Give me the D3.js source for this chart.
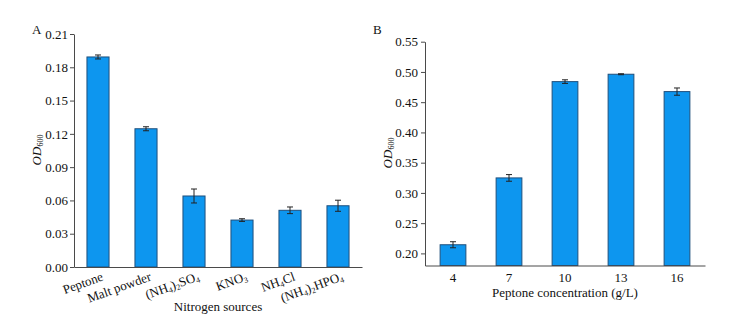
<!DOCTYPE html>
<html>
<head>
<meta charset="utf-8">
<script src="https://cdn.jsdelivr.net/npm/d3@7"></script>
<style>
  body { margin: 0; background: #fff; }
  svg { display: block; font-family: "Liberation Serif", "Times New Roman", serif; }
  .axis path, .axis line { stroke: #4a4a4a; }
  .axis text { font-size: 13px; fill: #111; font-family: "Liberation Serif", serif; }
</style>
</head>
<body>
<svg id="chart" width="732" height="327"></svg>
<script>
// Panel A: nitrogen sources
const sourceCategories = ["Peptone", "Malt powder", "(NH4)2SO4", "KNO3", "NH4Cl", "(NH4)2HPO4"];
const sourceValues = [0.1893, 0.1246, 0.0640, 0.0423, 0.0511, 0.0552];
const sourceErrors = [0.0018, 0.0018, 0.0063, 0.0012, 0.0030, 0.0050];
const sourceTicks = [0, 0.03, 0.06, 0.09, 0.12, 0.15, 0.18, 0.21];

// Panel B: peptone concentration (g/L)
const concCategories = ["4", "7", "10", "13", "16"];
const concValues = [0.2143, 0.3248, 0.4840, 0.4962, 0.4675];
const concErrors = [0.0050, 0.0055, 0.0030, 0.0008, 0.0060];
const concTicks = [0.20, 0.25, 0.30, 0.35, 0.40, 0.45, 0.50, 0.55];

// Chemical formula labels: [text, isSubscript] segments
const formulaParts = {
  "Peptone": [["Peptone", false]],
  "Malt powder": [["Malt powder", false]],
  "(NH4)2SO4": [["(NH", false], ["4", true], [")", false], ["2", true], ["SO", false], ["4", true]],
  "KNO3": [["KNO", false], ["3", true]],
  "NH4Cl": [["NH", false], ["4", true], ["Cl", false]],
  "(NH4)2HPO4": [["(NH", false], ["4", true], [")", false], ["2", true], ["HPO", false], ["4", true]]
};

const FILL = "#0d96ef";
const STROKE = "#1f4f7c";
const svg = d3.select("#chart");

function writeParts(textSel, parts, subSize) {
  parts.forEach(([t, sub]) => {
    const ts = textSel.append("tspan").text(t);
    if (sub) ts.attr("font-size", subSize).attr("baseline-shift", "-25%");
  });
}

function yLabel(x, y) {
  const t = svg.append("text")
    .attr("transform", `translate(${x},${y}) rotate(-90)`)
    .attr("text-anchor", "middle")
    .attr("font-size", 13)
    .attr("font-style", "italic")
    .attr("fill", "#111");
  t.append("tspan").text("OD");
  t.append("tspan").text("600").attr("font-size", 8).attr("font-style", "normal").attr("baseline-shift", "-30%");
}

function drawBars(g, x, y, cats, vals, errs, base) {
  g.selectAll("rect.bar").data(cats).join("rect")
    .attr("class", "bar")
    .attr("x", d => x(d))
    .attr("width", x.bandwidth())
    .attr("y", (d, i) => y(vals[i]))
    .attr("height", (d, i) => y(base) - y(vals[i]))
    .attr("fill", FILL)
    .attr("stroke", STROKE)
    .attr("stroke-width", 1);
  const eg = g.selectAll("g.err").data(cats).join("g").attr("class", "err")
    .attr("stroke", "#222").attr("stroke-width", 1);
  eg.append("line")
    .attr("x1", d => x(d) + x.bandwidth() / 2).attr("x2", d => x(d) + x.bandwidth() / 2)
    .attr("y1", (d, i) => y(vals[i] + errs[i])).attr("y2", (d, i) => y(vals[i] - errs[i]));
  eg.append("line")
    .attr("x1", d => x(d) + x.bandwidth() / 2 - 3).attr("x2", d => x(d) + x.bandwidth() / 2 + 3)
    .attr("y1", (d, i) => y(vals[i] + errs[i])).attr("y2", (d, i) => y(vals[i] + errs[i]));
  eg.append("line")
    .attr("x1", d => x(d) + x.bandwidth() / 2 - 3).attr("x2", d => x(d) + x.bandwidth() / 2 + 3)
    .attr("y1", (d, i) => y(vals[i] - errs[i])).attr("y2", (d, i) => y(vals[i] - errs[i]));
}

// ---------- Panel A ----------
{
  const x = d3.scaleBand().domain(sourceCategories).range([74, 362]).paddingInner(0.54).paddingOuter(0.27);
  const y = d3.scaleLinear().domain([0, 0.21]).range([267, 34]);
  const g = svg.append("g");

  svg.append("g").attr("class", "axis")
    .attr("transform", "translate(74,0)")
    .call(d3.axisLeft(y).tickValues(sourceTicks).tickFormat(d3.format(".2f")).tickSize(4).tickSizeOuter(0))
    .call(s => s.selectAll("text").attr("x", -6));

  drawBars(g, x, y, sourceCategories, sourceValues, sourceErrors, 0);

  svg.append("g").attr("class", "axis")
    .attr("transform", "translate(0,267)")
    .call(d3.axisBottom(x).tickSize(0).tickSizeOuter(0).tickFormat(""));

  sourceCategories.forEach(c => {
    const cx = x(c) + x.bandwidth() / 2;
    const t = svg.append("text")
      .attr("transform", `translate(${cx + 6},${280}) rotate(-20)`)
      .attr("text-anchor", "end")
      .attr("font-size", 13)
      .attr("fill", "#111");
    writeParts(t, formulaParts[c], 8);
  });

  svg.append("text").attr("x", 218).attr("y", 311).attr("text-anchor", "middle")
    .attr("font-size", 13).attr("fill", "#111").text("Nitrogen sources");
  svg.append("text").attr("x", 32).attr("y", 34).attr("font-size", 13).attr("fill", "#111").text("A");
  yLabel(41, 150);
}

// ---------- Panel B ----------
{
  const x = d3.scaleBand().domain(concCategories).range([425, 705]).paddingInner(0.54).paddingOuter(0.27);
  const y = d3.scaleLinear().domain([0.18, 0.55]).range([265.5, 41.7]);
  const g = svg.append("g");

  svg.append("g").attr("class", "axis")
    .attr("transform", "translate(425,0)")
    .call(d3.axisLeft(y).tickValues(concTicks).tickFormat(d3.format(".2f")).tickSize(4).tickSizeOuter(0))
    .call(s => s.selectAll("text").attr("x", -7));

  drawBars(g, x, y, concCategories, concValues, concErrors, 0.18);

  svg.append("g").attr("class", "axis")
    .attr("transform", "translate(0,265.5)")
    .call(d3.axisBottom(x).tickSize(0).tickSizeOuter(0).tickPadding(7));

  svg.append("text").attr("x", 565).attr("y", 297).attr("text-anchor", "middle")
    .attr("font-size", 13).attr("fill", "#111").text("Peptone concentration (g/L)");
  svg.append("text").attr("x", 373).attr("y", 34).attr("font-size", 13).attr("fill", "#111").text("B");
  yLabel(392, 153);
}
</script>
</body>
</html>
